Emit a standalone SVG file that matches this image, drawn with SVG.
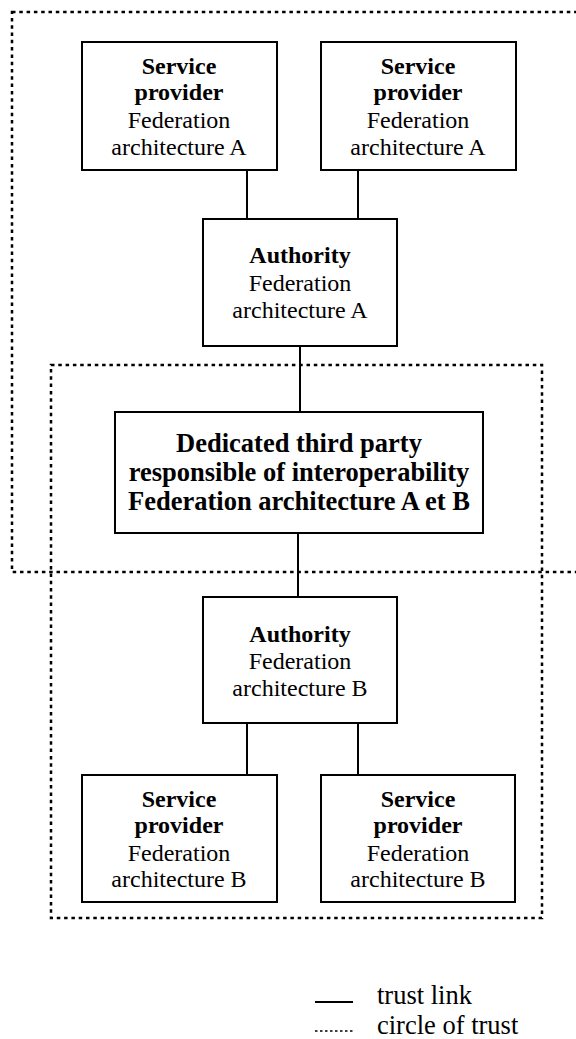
<svg xmlns="http://www.w3.org/2000/svg" width="576" height="1039" viewBox="0 0 576 1039">
<style>
.box{fill:#fff;stroke:#000;stroke-width:2}
.link{stroke:#000;stroke-width:2;fill:none}
.circle{fill:none;stroke:#000;stroke-width:2.5;stroke-dasharray:3.5 3.8}
text{font-family:"Liberation Serif","Times New Roman",serif;fill:#000;text-anchor:middle}
.t{font-size:24px}
.b{font-size:24px;font-weight:bold}
.big{font-size:26.5px;font-weight:bold}
.leg{font-size:26.5px;text-anchor:start}
</style>
<rect width="576" height="1039" fill="#fff"/>
<g id="circles">
<rect class="circle" x="12" y="12" width="620" height="560"/>
<rect class="circle" x="51" y="365" width="491" height="553"/>
</g>
<g id="connectors">
<line class="link" x1="247" y1="170" x2="247" y2="219"/>
<line class="link" x1="358" y1="170" x2="358" y2="219"/>
<line class="link" x1="300" y1="346" x2="300" y2="412"/>
<line class="link" x1="298" y1="533" x2="298" y2="597"/>
<line class="link" x1="247" y1="723" x2="247" y2="775"/>
<line class="link" x1="358" y1="723" x2="358" y2="775"/>
</g>
<g id="sp-a1">
<rect class="box" x="82" y="42" width="195" height="128"/>
<text class="b" x="179" y="74">Service</text>
<text class="b" x="179" y="100">provider</text>
<text class="t" x="179" y="128">Federation</text>
<text class="t" x="179" y="155">architecture A</text>
</g>
<g id="sp-a2">
<rect class="box" x="321" y="42" width="195" height="128"/>
<text class="b" x="418" y="74">Service</text>
<text class="b" x="418" y="100">provider</text>
<text class="t" x="418" y="128">Federation</text>
<text class="t" x="418" y="155">architecture A</text>
</g>
<g id="authority-a">
<rect class="box" x="203" y="219" width="194" height="127"/>
<text class="b" x="300" y="263">Authority</text>
<text class="t" x="300" y="291">Federation</text>
<text class="t" x="300" y="318">architecture A</text>
</g>
<g id="third-party">
<rect class="box" x="115" y="412" width="368" height="121"/>
<text class="big" x="299" y="452">Dedicated third party</text>
<text class="big" x="299" y="481">responsible of interoperability</text>
<text class="big" x="299" y="510">Federation architecture A et B</text>
</g>
<g id="authority-b">
<rect class="box" x="203" y="597" width="194" height="126"/>
<text class="b" x="300" y="642">Authority</text>
<text class="t" x="300" y="669">Federation</text>
<text class="t" x="300" y="696">architecture B</text>
</g>
<g id="sp-b1">
<rect class="box" x="82" y="775" width="195" height="127"/>
<text class="b" x="179" y="807">Service</text>
<text class="b" x="179" y="833">provider</text>
<text class="t" x="179" y="861">Federation</text>
<text class="t" x="179" y="887">architecture B</text>
</g>
<g id="sp-b2">
<rect class="box" x="321" y="775" width="194" height="127"/>
<text class="b" x="418" y="807">Service</text>
<text class="b" x="418" y="833">provider</text>
<text class="t" x="418" y="861">Federation</text>
<text class="t" x="418" y="887">architecture B</text>
</g>
<g id="legend">
<line class="link" x1="315" y1="1002" x2="353" y2="1002"/>
<text class="leg" x="377" y="1004">trust link</text>
<line x1="315" y1="1031" x2="353" y2="1031" stroke="#000" stroke-width="1.5" stroke-dasharray="2.5 2.5"/>
<text class="leg" x="377" y="1034">circle of trust</text>
</g>
</svg>
